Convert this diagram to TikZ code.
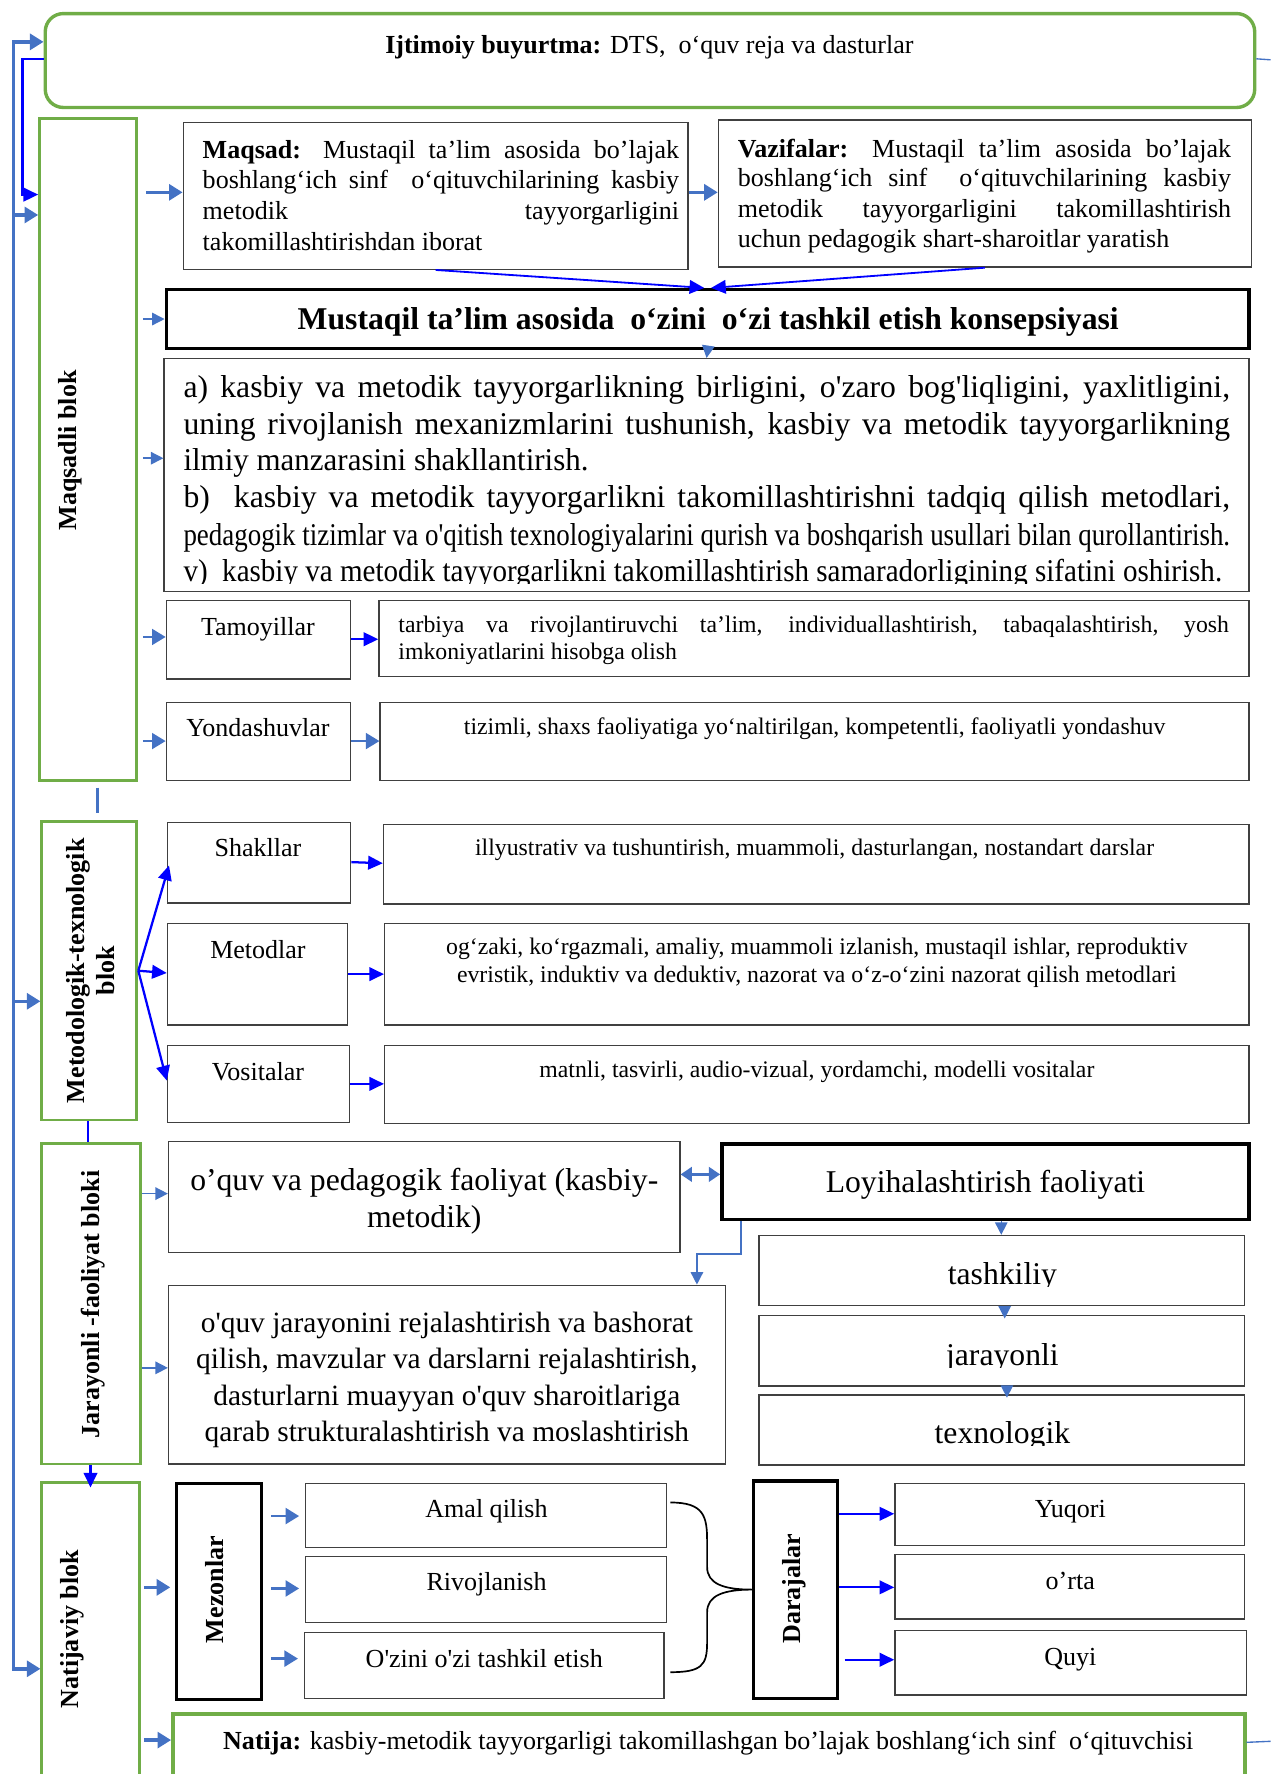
\documentclass[tikz,border=0pt]{standalone}
\usepackage{fontspec}
\setmainfont{Liberation Serif}[Ligatures=TeXOff]
\usepackage{graphicx}
\usetikzlibrary{arrows.meta,fit}
\definecolor{gr}{HTML}{70AD47}
\definecolor{sbl}{HTML}{4472C4}
\definecolor{pbl}{HTML}{0000FF}
\newcommand\fs[2]{\fontsize{#1}{#2}\selectfont}
\newsavebox\jlbox
\newcommand\jl[2]{\sbox\jlbox{#2}\ifdim\wd\jlbox>#1\relax\resizebox{#1}{\height}{#2}\else\makebox[#1][s]{#2}\fi}
\tikzset{
 gbox/.style={draw=gr, line width=2.5pt, inner sep=0pt},
 tbox/.style={draw=black!75, line width=1.2pt, inner sep=0pt},
 kbox/.style={draw=black, line width=3pt, inner sep=0pt},
 txt/.style={inner sep=0pt, anchor=base},
 txtl/.style={inner sep=0pt, anchor=base west},
 rtxt/.style={inner sep=0pt, rotate=90, font=\fs{23}{26}\bfseries, align=center},
 sbA/.style={draw=sbl, line width=3pt, -{Triangle[length=12pt,width=14pt]}},
 sbB/.style={draw=sbl, line width=1.3pt, -{Triangle[length=11pt,width=11pt]}},
 pbA/.style={draw=pbl, line width=2pt, -{Triangle[length=13pt,width=12pt]}},
}
\begin{document}
\begin{tikzpicture}[x=1pt,y=-1pt]
\useasboundingbox (0,0) rectangle (1123,1568);
\clip (0,0) rectangle (1123,1568);
\coordinate (L) at (12,0);
\coordinate (L2) at (20,0);
% ---------- boxes
\node[gbox, line width=3pt, rounded corners=16pt, fit={(40,12)(1109,95)}] (top) {};
\node[gbox, fit={(35,105)(121,690)}] (maqb) {};
\node[gbox, fit={(37,726)(121,990)}] (metb) {};
\node[gbox, fit={(37,1011)(124,1294)}] (jarb) {};
\node[gbox, fit={(37,1310)(123,1600)}] (natb) {};
\node[tbox, fit={(162,108)(608,238)}] (maqsad) {};
\node[tbox, fit={(635,106)(1106,236)}] (vaz) {};
\node[kbox, fit={(147,256)(1104,308)}] (kons) {};
\node[tbox, fit={(145,317)(1104,523)}] (abox) {};
\node[tbox, fit={(147,531)(310,600)}] (tam) {};
\node[tbox, fit={(335,531)(1104,598)}] (tamr) {};
\node[tbox, fit={(147,621)(310,690)}] (yon) {};
\node[tbox, fit={(336,621)(1104,690)}] (yonr) {};
\node[tbox, fit={(148,727)(310,798)}] (sha) {};
\node[tbox, fit={(339,729)(1104,799)}] (shar) {};
\node[tbox, fit={(148,816)(307,906)}] (met) {};
\node[tbox, fit={(340,816)(1104,906)}] (metr) {};
\node[tbox, fit={(148,924)(309,992)}] (vos) {};
\node[tbox, fit={(340,924)(1104,993)}] (vosr) {};
\node[tbox, fit={(149,1009)(601,1107)}] (oqp) {};
\node[kbox, fit={(638,1011)(1104,1078)}] (loy) {};
\node[tbox, fit={(149,1136)(641,1294)}] (oqj) {};
\node[tbox, fit={(671,1092)(1100,1154)}] (tash) {};
\node[tbox, fit={(671,1163)(1100,1225)}] (jar) {};
\node[tbox, fit={(671,1233)(1100,1295)}] (tex) {};
\node[kbox, fit={(156,1311)(231,1502)}] (mez) {};
\node[tbox, fit={(270,1311)(589,1368)}] (amal) {};
\node[tbox, fit={(270,1376)(589,1434)}] (riv) {};
\node[tbox, fit={(269,1443)(587,1501)}] (ozi) {};
\node[kbox, fit={(666,1309)(740,1501)}] (dar) {};
\node[tbox, fit={(791,1311)(1100,1366)}] (yuq) {};
\node[tbox, fit={(791,1374)(1100,1431)}] (ort) {};
\node[tbox, fit={(791,1441)(1102,1498)}] (quy) {};
\node[gbox, line width=3.5pt, fit={(153,1515)(1100,1570)}] (natija) {};
% ---------- texts
\node[txt, font=\fs{23}{27}] (toptx) at (574,47) {\textbf{Ijtimoiy buyurtma:} DTS,\ \ o‘quv reja va dasturlar};
\node[rtxt] (maqbt) at (62,398) {Maqsadli blok};
\node[rtxt] (metbt) at (80,858) {Metodologik-texnologik\\blok};
\node[rtxt] (jarbt) at (82,1153) {Jarayonli -faoliyat bloki};
\node[rtxt] (natbt) at (64,1440) {Natijaviy blok};
\node[rtxt] (mezt) at (190,1405) {Mezonlar};
\node[rtxt] (dart) at (702,1404) {Darajalar};

\node[txtl, font=\fs{23}{27}] (mq1) at (179,140) {\jl{421pt}{\textbf{Maqsad:} Mustaqil ta’lim asosida bo’lajak}};
\node[txtl, font=\fs{23}{27}] (mq2) at (179,167) {\jl{421pt}{boshlang‘ich sinf\ \ o‘qituvchilarining kasbiy}};
\node[txtl, font=\fs{23}{27}] (mq3) at (179,194) {\jl{421pt}{metodik tayyorgarligini}};
\node[txtl, font=\fs{23}{27}] (mq4) at (179,221) {takomillashtirishdan iborat};

\node[txtl, font=\fs{23}{27}] (vz1) at (652,139) {\jl{436pt}{\textbf{Vazifalar:} Mustaqil ta’lim asosida bo’lajak}};
\node[txtl, font=\fs{23}{27}] (vz2) at (652,165) {\jl{436pt}{boshlang‘ich sinf\ \ o‘qituvchilarining kasbiy}};
\node[txtl, font=\fs{23}{27}] (vz3) at (652,192) {\jl{436pt}{metodik tayyorgarligini takomillashtirish}};
\node[txtl, font=\fs{23}{27}] (vz4) at (652,219) {uchun pedagogik shart-sharoitlar yaratish};

\node[txt, font=\fs{28}{33}\bfseries] (konst) at (626,291) {Mustaqil ta’lim asosida\ \ o‘zini\ \ o‘zi tashkil etish konsepsiyasi};

\begin{scope}
\clip (145,317) rectangle (1104,516);
\node[txtl, font=\fs{28}{33}] (a1) at (162,351) {\jl{925pt}{a) kasbiy va metodik tayyorgarlikning birligini, o'zaro bog'liqligini, yaxlitligini,}};
\node[txtl, font=\fs{28}{33}] (a2) at (162,384) {\jl{925pt}{uning rivojlanish mexanizmlarini tushunish, kasbiy va metodik tayyorgarlikning}};
\node[txtl, font=\fs{28}{33}] (a3) at (162,416) {\jl{358pt}{ilmiy manzarasini shakllantirish.}};
\node[txtl, font=\fs{28}{33}] (a4) at (162,449) {\jl{925pt}{b)\ \ kasbiy va metodik tayyorgarlikni takomillashtirishni tadqiq qilish metodlari,}};
\node[txtl, font=\fs{28}{33}] (a5) at (162,482) {\jl{925pt}{pedagogik tizimlar va o'qitish texnologiyalarini qurish va boshqarish usullari bilan qurollantirish.}};
\node[txtl, font=\fs{28}{33}] (a6) at (162,514) {\jl{918pt}{v)\ \ kasbiy va metodik tayyorgarlikni takomillashtirish samaradorligining sifatini oshirish.}};
\end{scope}

\node[txt, font=\fs{23}{27}] (tamt) at (228,562) {Tamoyillar};
\node[txtl, font=\fs{21}{24}] (tr1) at (352,559) {\jl{734pt}{tarbiya va rivojlantiruvchi ta’lim, individuallashtirish, tabaqalashtirish, yosh}};
\node[txtl, font=\fs{21}{24}] (tr2) at (352,583) {imkoniyatlarini hisobga olish};
\node[txt, font=\fs{23}{27}] (yont) at (228,651) {Yondashuvlar};
\node[txt, font=\fs{21}{24}] (yonrt) at (720,649) {tizimli, shaxs faoliyatiga yo‘naltirilgan, kompetentli, faoliyatli yondashuv};
\node[txt, font=\fs{23}{27}] (shat) at (228,757) {Shakllar};
\node[txt, font=\fs{21}{24}] (shart) at (720,756) {illyustrativ va tushuntirish, muammoli, dasturlangan, nostandart darslar};
\node[txt, font=\fs{23}{27}] (mett) at (228,847) {Metodlar};
\node[txt, font=\fs{21}{24}] (mr1) at (722,844) {og‘zaki, ko‘rgazmali, amaliy, muammoli izlanish, mustaqil ishlar, reproduktiv};
\node[txt, font=\fs{21}{24}] (mr2) at (722,868) {evristik, induktiv va deduktiv, nazorat va o‘z-o‘zini nazorat qilish metodlari};
\node[txt, font=\fs{23}{27}] (vost) at (228,955) {Vositalar};
\node[txt, font=\fs{21}{24}] (vosrt) at (722,952) {matnli, tasvirli, audio-vizual, yordamchi, modelli vositalar};

\node[txt, font=\fs{28}{33}] (oqp1) at (375,1052) {o’quv va pedagogik faoliyat (kasbiy-};
\node[txt, font=\fs{28}{33}] (oqp2) at (375,1085) {metodik)};
\node[txt, font=\fs{28}{33}] (loyt) at (871,1054) {Loyihalashtirish faoliyati};
\node[txt, font=\fs{26}{32}] (oj1) at (395,1178) {o'quv jarayonini rejalashtirish va bashorat};
\node[txt, font=\fs{26}{32}] (oj2) at (395,1210) {qilish, mavzular va darslarni rejalashtirish,};
\node[txt, font=\fs{26}{32}] (oj3) at (395,1242) {dasturlarni muayyan o'quv sharoitlariga};
\node[txt, font=\fs{26}{32}] (oj4) at (395,1274) {qarab strukturalashtirish va moslashtirish};
\begin{scope}
\clip (671,1092) rectangle (1100,1137);
\node[txt, font=\fs{28}{33}] (tasht) at (886,1135) {tashkiliy};
\end{scope}
\begin{scope}
\clip (671,1163) rectangle (1100,1209);
\node[txt, font=\fs{28}{33}] (jart) at (886,1207) {jarayonli};
\end{scope}
\begin{scope}
\clip (671,1233) rectangle (1100,1278);
\node[txt, font=\fs{28}{33}] (text) at (886,1276) {texnologik};
\end{scope}

\node[txt, font=\fs{23}{27}] (amalt) at (430,1341) {Amal qilish};
\node[txt, font=\fs{23}{27}] (rivt) at (430,1406) {Rivojlanish};
\node[txt, font=\fs{23}{27}] (ozit) at (428,1474) {O'zini o'zi tashkil etish};
\node[txt, font=\fs{23}{27}] (yuqt) at (946,1341) {Yuqori};
\node[txt, font=\fs{23}{27}] (ortt) at (946,1405) {o’rta};
\node[txt, font=\fs{23}{27}] (quyt) at (946,1472) {Quyi};
\node[txt, font=\fs{23}{27}] (natt) at (626,1546) {\textbf{Natija:} kasbiy-metodik tayyorgarligi takomillashgan bo’lajak boshlang‘ich sinf\ \ o‘qituvchisi};

% ---------- connectors
\draw[draw=sbl, line width=3pt, {Triangle[length=12pt,width=14pt]}-{Triangle[length=12pt,width=14pt]}]
  (natb.west |- 0,1475) -- (L |- 0,1475) -- (L |- 0,37) -- (top.west |- 0,37);
\draw[sbA] (L |- 0,190) -- (maqb.west |- 0,190);
\draw[sbA] (L |- 0,885) -- (metb.west |- 0,885);
\draw[pbA] (top.west |- 0,52) -- (L2 |- 0,52) -- (L2 |- 0,172) -- (maqb.west |- 0,172);
\draw[draw=sbl, line width=1.2pt] (top.east |- 0,52) -- (1125,53);
\draw[draw=sbl, line width=1.2pt] (natija.east |- 0,1540) -- (1125,1539);

\draw[sbA, shorten <=7pt] (maqb.east |- 0,170) -- (maqsad.west |- 0,170);
\draw[sbA] (maqsad.east |- 0,170) -- (vaz.west |- 0,170);
\draw[pbA, line width=1.6pt] (maqsad.south) -- ([xshift=-3pt]kons.north);
\draw[pbA, line width=1.6pt] (vaz.south) -- ([xshift=3pt]kons.north);
\draw[sbB, shorten <=4pt] (maqb.east |- 0,282) -- (kons.west |- 0,282);
\draw[sbB] (kons.south) -- (abox.north);
\draw[sbB, shorten <=4pt] (maqb.east |- 0,405) -- (abox.west |- 0,405);
\draw[sbA, line width=2pt, shorten <=4pt] (maqb.east |- 0,563) -- (tam.west |- 0,563);
\draw[pbA] (tam.east |- 0,565) -- (tamr.west |- 0,565);
\draw[sbA, line width=2pt, shorten <=4pt] (maqb.east |- 0,655) -- (yon.west |- 0,655);
\draw[sbA, line width=2pt] (yon.east |- 0,655) -- (yonr.west |- 0,655);
\draw[draw=sbl, line width=3pt, shorten <=5pt, shorten >=6pt] (maqb.south -| 86,0) -- (metb.north -| 86,0);

\draw[pbA] (metb.east |- 0,858) -- ([xshift=2pt]sha.west |- 0,765);
\draw[pbA] (metb.east |- 0,858) -- (met.west |- 0,860);
\draw[pbA] (metb.east |- 0,858) -- (vos.west |- 0,955);
\draw[pbA] (sha.east |- 0,762) -- (shar.west |- 0,763);
\draw[pbA] (met.east |- 0,861) -- (metr.west |- 0,861);
\draw[pbA] (vos.east |- 0,958) -- (vosr.west |- 0,958);
\draw[draw=pbl, line width=2pt] (metb.south -| 78,0) -- (jarb.north -| 78,0);

\draw[sbB] (jarb.east |- 0,1055) -- (oqp.west |- 0,1055);
\draw[sbB] (jarb.east |- 0,1209) -- (oqj.west |- 0,1209);
\draw[draw=sbl, line width=2pt, {Triangle[length=10pt,width=13pt]}-{Triangle[length=10pt,width=13pt]}] (oqp.east |- 0,1038) -- (loy.west |- 0,1038);
\draw[sbB] (loy.south -| 655,0) -- ++(0,29) -| (oqj.north -| 616,0);
\draw[sbB] (loy.south -| 885,0) -- (tash.north -| 885,0);
\draw[sbB, shorten >=-3pt] (tash.south -| 888,0) -- (jar.north -| 888,0);
\draw[sbB, shorten >=-3pt] (jar.south -| 890,0) -- (tex.north -| 890,0);
\draw[pbA] (jarb.south -| 80,0) -- ([yshift=-6pt]natb.north -| 80,0);

\draw[sbA, shorten <=3pt, shorten >=4pt] (natb.east |- 0,1403) -- (mez.west |- 0,1403);
\draw[sbA, shorten <=3pt] (natb.east |- 0,1538) -- (natija.west |- 0,1538);
\draw[sbA, line width=2.5pt, shorten <=7pt, shorten >=5pt] (mez.east |- 0,1340) -- (amal.west |- 0,1340);
\draw[sbA, line width=2.5pt, shorten <=7pt, shorten >=5pt] (mez.east |- 0,1404) -- (riv.west |- 0,1404);
\draw[sbA, line width=2.5pt, shorten <=7pt, shorten >=5pt] (mez.east |- 0,1466) -- (ozi.west |- 0,1466);
\draw[line width=1.5pt] ([xshift=3pt]amal.east |- 0,1328) .. controls (622,1328) and (625,1340) .. (625,1362)
  -- (625,1385) .. controls (625,1400) and (640,1405) .. (dar.west |- 0,1405)
  .. controls (640,1405) and (625,1410) .. (625,1425)
  -- (625,1452) .. controls (625,1472) and (620,1478) .. ([xshift=5pt]ozi.east |- 0,1478);
\draw[pbA] (dar.east |- 0,1338) -- (yuq.west |- 0,1338);
\draw[pbA] (dar.east |- 0,1403) -- (ort.west |- 0,1403);
\draw[pbA, shorten <=5pt] (dar.east |- 0,1467) -- (quy.west |- 0,1467);
\end{tikzpicture}
\end{document}
